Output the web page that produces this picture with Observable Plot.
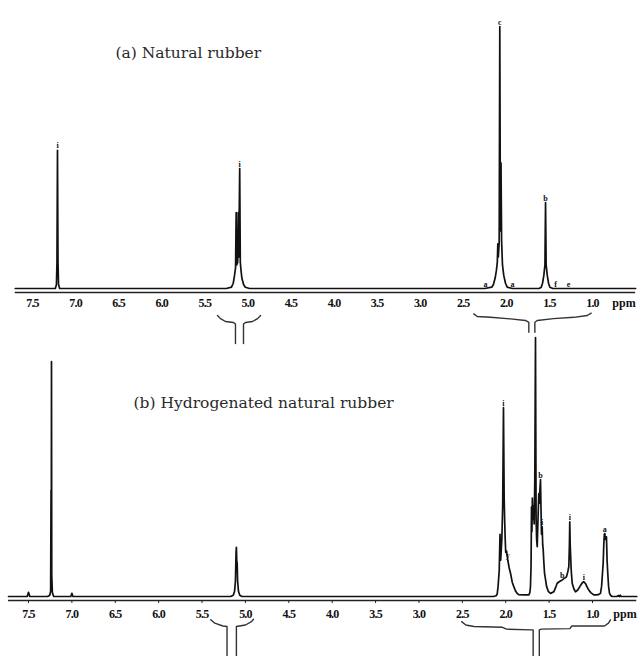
<!DOCTYPE html>
<html>
<head>
<meta charset="utf-8">
<script src="https://cdn.jsdelivr.net/npm/d3@7"></script>
<script src="https://cdn.jsdelivr.net/npm/@observablehq/plot@0.6"></script>
<style>
  html, body { margin: 0; padding: 0; background: #fff; }
  #chart { position: relative; width: 640px; height: 656px; }
  #chart svg { position: absolute; left: 0; top: 0; overflow: visible; }
  #chart g[aria-label="x-axis tick label"] text { letter-spacing: -0.8px; }
</style>
</head>
<body>
<div id="chart"></div>
<script>
// ---------- data ----------
const tickValues = [7.5, 7.0, 6.5, 6.0, 5.5, 5.0, 4.5, 4.0, 3.5, 3.0, 2.5, 2.0, 1.5, 1.0];
const unitLabel = "ppm";
const titleA = "(a) Natural rubber";
const titleB = "(b) Hydrogenated natural rubber";

// (a) Natural rubber : chemical shift (ppm) / relative intensity (% of tallest peak)
const nrShift = [7.70,
  7.235, 7.222, 7.216, 7.21, 7.204, 7.198, 7.185,
  5.25, 5.19, 5.17, 5.155, 5.143, 5.136, 5.13, 5.118, 5.112, 5.106, 5.095, 5.088, 5.08, 5.07, 5.05, 5.03, 4.98,
  2.25, 2.17, 2.15, 2.13, 2.115, 2.105, 2.099, 2.093, 2.083, 2.076, 2.069, 2.062, 2.055, 2.045, 2.03, 2.01, 1.99, 1.93,
  1.62, 1.595, 1.58, 1.565, 1.552, 1.545, 1.538, 1.525, 1.51, 1.495, 1.46,
  0.50];
const nrIntensity = [0,
  0, 1.5, 10, 52.7, 10, 1.5, 0,
  0, 0.5, 2, 5, 8, 29, 9, 10, 29, 12, 45.8, 10, 7, 4, 1.5, 0.5, 0,
  0, 0.5, 1.5, 4, 7, 10, 17, 12, 18, 100, 22, 48, 18, 9, 5, 2, 0.5, 0,
  0, 0.5, 2, 5, 9, 32.8, 9, 5, 2, 0.5, 0,
  0];

// (b) Hydrogenated natural rubber
const hnrShift = [7.73,
  7.515, 7.50, 7.485,
  7.28, 7.255, 7.245, 7.24, 7.237, 7.235, 7.232, 7.225, 7.21,
  7.012, 7.0, 6.988,
  5.17, 5.14, 5.125, 5.115, 5.108, 5.104, 5.10, 5.095, 5.09, 5.08, 5.065, 5.04,
  2.14, 2.11, 2.098, 2.088, 2.075, 2.066, 2.058, 2.045, 2.035, 2.026, 2.018, 2.012, 2.006, 2.0, 1.99, 1.976, 1.96, 1.945, 1.925, 1.907, 1.885, 1.868, 1.85, 1.80,
  1.734, 1.722, 1.715, 1.708, 1.703, 1.698, 1.693, 1.688, 1.68, 1.672,
  1.665, 1.657, 1.65, 1.644, 1.637, 1.628, 1.619, 1.612, 1.605, 1.599,
  1.594, 1.588, 1.58, 1.574, 1.568, 1.562, 1.553, 1.541, 1.53, 1.51,
  1.484, 1.466, 1.446, 1.425, 1.407, 1.38, 1.349, 1.325, 1.30, 1.285,
  1.273, 1.266, 1.262, 1.257, 1.25, 1.245, 1.234, 1.215, 1.196, 1.17,
  1.146, 1.12, 1.10, 1.08, 1.06, 1.043, 1.02, 0.985, 0.95, 0.925,
  0.908, 0.895, 0.885, 0.877, 0.87, 0.864, 0.858, 0.852, 0.846, 0.839,
  0.832, 0.824, 0.815, 0.804, 0.79, 0.773, 0.72, 0.70, 0.69, 0.68,
  0.67, 0.49];
const hnrIntensity = [0,
  0, 1.6, 0,
  0, 0.5, 2, 41, 35, 90.7, 8, 1.5, 0,
  0, 1.2, 0,
  0, 0.5, 2, 6, 17, 19, 14, 12.7, 6, 2, 0.5, 0,
  0, 0.3, 1, 4, 10, 24, 14, 22, 35, 72.9, 38, 29, 22, 17, 17.5, 14, 11, 9, 5.5, 3.8, 2, 1.2, 0.7, 0.6,
  0.6, 1.5, 3.8, 12, 34.6, 25, 38, 30, 35, 28,
  45, 100, 30, 22, 19.2, 30, 39.7, 36, 42, 45.1,
  35, 24, 26.9, 20, 18, 14, 9, 6.5, 4, 2,
  1.2, 1.5, 1.8, 3.5, 5.1, 5.8, 6.4, 7, 7.6, 9.5,
  11.5, 20, 28.8, 20, 14, 10, 5.1, 3, 1.8, 2.5,
  3.8, 5.2, 5.7, 5, 3.5, 2.5, 1.5, 0.6, 0.6, 0.8,
  1.2, 4, 9, 12.8, 20, 24, 24.3, 22, 23, 23,
  14, 9, 4, 1.2, 0.4, 0, 0, 0.4, 0, 0.5,
  0, 0];

// peak assignment letters
const labelShiftA = [7.21, 5.095, 2.076, 1.545, 2.242, 1.928, 1.429, 1.278];
const labelHeightA = [52.7, 45.8, 100, 32.8, 0, 0, 0, 0];
const labelTextA = ["i", "i", "c", "b", "a", "a", "f", "e"];

const labelShiftB = [2.026, 1.976, 1.599, 1.580, 1.349, 1.262, 1.10, 0.858];
const labelHeightB = [72.9, 14, 45.1, 26.9, 6.4, 28.8, 5.7, 24.3];
const labelTextB = ["i", "y", "b", "i", "b", "i", "i", "a"];

// integration brackets below each axis: [ppm, intensity] vertices
const bracketsA = [
  [[5.353, -10.3], [5.318, -11.5], [5.26, -12.6], [5.167, -13.0], [5.144, -13.6], [5.144, -21.0]],
  [[5.051, -21.0], [5.051, -13.6], [5.028, -13.0], [4.946, -12.6], [4.888, -11.5], [4.853, -10.3]],
  [[2.378, -9.7], [2.338, -10.7], [2.184, -11.0], [1.952, -11.6], [1.778, -12.2], [1.739, -12.9], [1.739, -16.7]],
  [[1.669, -16.7], [1.669, -12.9], [1.642, -12.2], [1.452, -11.5], [1.217, -11.0], [1.061, -10.3], [1.015, -9.4]]
];
const bracketsB = [
  [[5.40, -9.0], [5.353, -10.3], [5.26, -11.4], [5.212, -11.6], [5.212, -23.5]],
  [[5.104, -23.5], [5.104, -11.6], [5.0, -11.0], [4.93, -9.7], [4.907, -8.8]],
  [[2.508, -9.7], [2.46, -11.0], [2.366, -11.6], [2.037, -11.9], [1.991, -12.6], [1.708, -12.9], [1.684, -12.9], [1.684, -23.5]],
  [[1.613, -23.5], [1.613, -12.9], [1.59, -12.6], [1.261, -12.4], [1.238, -11.4], [0.862, -11.4], [0.816, -10.3], [0.793, -9.0]]
];

// extent of the drawn axis line (ppm)
const axisExtentA = [7.70, 0.50];
const axisExtentB = [7.73, 0.49];
const unitShiftA = 0.77;
const unitShiftB = 0.76;

// ---------- drawing ----------
const zip = (xs, ys) => xs.slice(0, Math.min(xs.length, ys.length)).map((x, i) => ({ppm: x, v: ys[i]}));
const labelsOf = (xs, ys, ts) => xs.map((x, i) => ({ppm: x, v: ys[i], t: ts[i]}));
const bracketRows = (bs) => bs.flatMap((seg, k) => seg.map(([p, v]) => ({ppm: p, v, k})));

function panel(o) {
  const spectrum = zip(o.shift, o.intensity);
  return Plot.plot({
    width: 640,
    height: 656,
    marginTop: 0,
    marginLeft: 0,
    marginRight: 0,
    marginBottom: 656 - o.axisY,
    style: "background: transparent; overflow: visible; font-family: 'Liberation Serif', serif; font-weight: bold; font-size: 12px; color: #111;",
    x: {domain: [7.5, 1.0], range: o.xRange},
    y: {domain: [0, 100], range: o.yRange, axis: null},
    marks: [
      Plot.ruleY([0], {x1: o.axisExtent[0], x2: o.axisExtent[1], dy: o.axisY - o.yRange[0], stroke: "#222", strokeWidth: 1.5}),
      Plot.axisX(tickValues, {
        anchor: "bottom", tickSize: o.tickSize, tickPadding: o.tickPadding,
        tickFormat: d3.format(".1f"), label: null,
        fontSize: 12, fontWeight: "bold", fontFamily: "Liberation Serif", fill: "#111", stroke: "#222"
      }),
      Plot.text([unitLabel], {
        x: o.unitShift, y: 0, text: d => d, textAnchor: "start", lineAnchor: "top",
        dy: o.axisY - o.yRange[0] + o.tickSize + o.tickPadding,
        fontSize: 12, fontWeight: "bold", fontFamily: "Liberation Serif", fill: "#111"
      }),
      Plot.line(spectrum, {x: "ppm", y: "v", stroke: "#111", strokeWidth: 1.7, strokeLinejoin: "round"}),
      Plot.text(labelsOf(o.labelShift, o.labelHeight, o.labelText), {
        x: "ppm", y: "v", text: "t", lineAnchor: "bottom", dy: -2,
        fontSize: 8, fontWeight: "bold", fontFamily: "Liberation Serif", fill: "#111"
      }),
      Plot.line(bracketRows(o.brackets), {x: "ppm", y: "v", z: "k", stroke: "#333", strokeWidth: 1.4}),
      Plot.text([o.title], {
        frameAnchor: "top-left", dx: o.titleX, dy: o.titleY, text: d => d,
        textAnchor: "start", lineAnchor: "middle",
        fontSize: 15.5, fontWeight: "normal", fontFamily: "DejaVu Serif", fill: "#2a2a2a"
      })
    ]
  });
}

const chart = document.getElementById("chart");
chart.append(panel({
  shift: nrShift, intensity: nrIntensity,
  labelShift: labelShiftA, labelHeight: labelHeightA, labelText: labelTextA,
  brackets: bracketsA, axisExtent: axisExtentA, unitShift: unitShiftA,
  xRange: [32, 592], yRange: [288, 26], axisY: 292, tickSize: 0, tickPadding: 6,
  title: titleA, titleX: 115, titleY: 53
}));
chart.append(panel({
  shift: hnrShift, intensity: hnrIntensity,
  labelShift: labelShiftB, labelHeight: labelHeightB, labelText: labelTextB,
  brackets: bracketsB, axisExtent: axisExtentB, unitShift: unitShiftB,
  xRange: [28, 592], yRange: [596, 337], axisY: 600, tickSize: 3, tickPadding: 6,
  title: titleB, titleX: 133, titleY: 403
}));
</script>
</body>
</html>
